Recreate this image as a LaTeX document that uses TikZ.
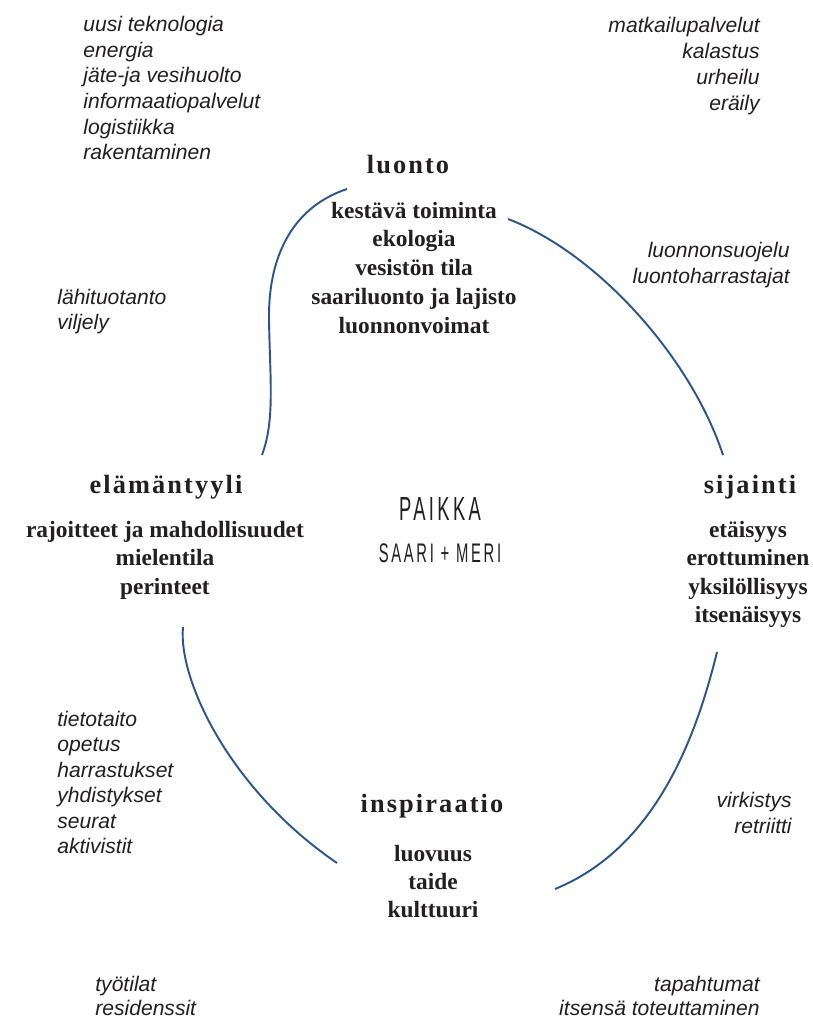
\documentclass[tikz,border=0pt]{standalone}
\usepackage{fontspec}
\setmainfont{Liberation Serif}
\newfontfamily\sidefont{Liberation Sans}
\newfontfamily\headfont[LetterSpace=8]{Liberation Serif}
\newfontfamily\placefont[FakeStretch=0.55,LetterSpace=10]{Liberation Sans}
\definecolor{curveblue}{HTML}{2B5592}
\definecolor{inkgray}{HTML}{231F20}

\begin{document}
\begin{tikzpicture}[x=0.02cm, y=-0.02cm,
    side/.style={font=\sidefont\itshape\fontsize{12}{14}\selectfont, text=inkgray, inner sep=0},
    heading/.style={font=\headfont\bfseries\fontsize{15}{17}\selectfont, text=inkgray, inner sep=0, anchor=base},
    item/.style={font=\bfseries\fontsize{13.3}{16}\selectfont, text=inkgray, inner sep=0, anchor=base},
    place/.style={font=\placefont\fontsize{19}{22}\selectfont, text=inkgray, inner sep=0, anchor=base},
    link/.style={draw=curveblue, line width=1.1pt}]
    \fill[white] (0,0) rectangle (813,1017);
    \useasboundingbox (0,0) rectangle (813,1017);

    % side lists
    \foreach \t [count=\i] in {uusi teknologia, energia, jäte-ja vesihuolto, informaatiopalvelut, logistiikka, rakentaminen}
        \node[side, anchor=base west] (tek\i) at ({83},{32+25.5*(\i-1)}) {\t};
    \foreach \t [count=\i] in {matkailupalvelut, kalastus, urheilu, eräily}
        \node[side, anchor=base east] (mat\i) at ({760},{33+25.7*(\i-1)}) {\t};
    \foreach \t [count=\i] in {lähituotanto, viljely}
        \node[side, anchor=base west] (lah\i) at ({57},{304+25.5*(\i-1)}) {\t};
    \foreach \t [count=\i] in {luonnonsuojelu, luontoharrastajat}
        \node[side, anchor=base east] (suo\i) at ({790},{257+26*(\i-1)}) {\t};
    \foreach \t [count=\i] in {tietotaito, opetus, harrastukset, yhdistykset, seurat, aktivistit}
        \node[side, anchor=base west] (tie\i) at ({57},{726+25.5*(\i-1)}) {\t};
    \foreach \t [count=\i] in {virkistys, retriitti}
        \node[side, anchor=base east] (vir\i) at ({792},{807+26*(\i-1)}) {\t};
    \foreach \t [count=\i] in {työtilat, residenssit}
        \node[side, anchor=base west] (tyo\i) at ({95},{991+24*(\i-1)}) {\t};
    \foreach \t [count=\i] in {tapahtumat, itsensä toteuttaminen}
        \node[side, anchor=base east] (tap\i) at ({760},{991+24*(\i-1)}) {\t};

    % headings and their items
    \node[heading] (luonto) at (408,173) {luonto};
    \foreach \t [count=\i] in {kestävä toiminta, ekologia, vesistön tila, saariluonto ja lajisto, luonnonvoimat}
        \node[item] (luo\i) at ({414},{218+28.75*(\i-1)}) {\t};
    \node[heading] (elama) at (166,493) {elämäntyyli};
    \foreach \t [count=\i] in {rajoitteet ja mahdollisuudet, mielentila, perinteet}
        \node[item] (ela\i) at ({165},{537+28.5*(\i-1)}) {\t};
    \node[heading] (sijainti) at (750,493) {sijainti};
    \foreach \t [count=\i] in {etäisyys, erottuminen, yksilöllisyys, itsenäisyys}
        \node[item] (sij\i) at ({748},{537+28.6*(\i-1)}) {\t};
    \node[heading] (inspiraatio) at (432,812) {inspiraatio};
    \foreach \t [count=\i] in {luovuus, taide, kulttuuri}
        \node[item] (ins\i) at ({433},{861+28*(\i-1)}) {\t};

    \node[place] (paikka) at (440,520) {PAIKKA};
    \node[place, font=\placefont\fontsize{15.3}{18}\selectfont] (saari) at (440,562) {SAARI + MERI};

    % curves
    \coordinate (c1a) at (347,189);
    \coordinate (c1m) at (269,320);
    \coordinate (c1b) at (262,455);
    \draw[link] (c1a) .. controls (290,208) and (268,260) .. (c1m)
        .. controls (270,380) and (275,420) .. (c1b);
    \coordinate (c2a) at (508,219);
    \coordinate (c2b) at (723,455);
    \draw[link] (c2a) .. controls (595,252) and (690,355) .. (c2b);
    \coordinate (c3a) at (717,652);
    \coordinate (c3b) at (555,889);
    \draw[link] (c3a) .. controls (693,750) and (650,850) .. (c3b);
    \coordinate (c4a) at (183,627);
    \coordinate (c4b) at (337,863);
    \draw[link] (c4a) .. controls (178,680) and (230,790) .. (c4b);
\end{tikzpicture}
\end{document}
